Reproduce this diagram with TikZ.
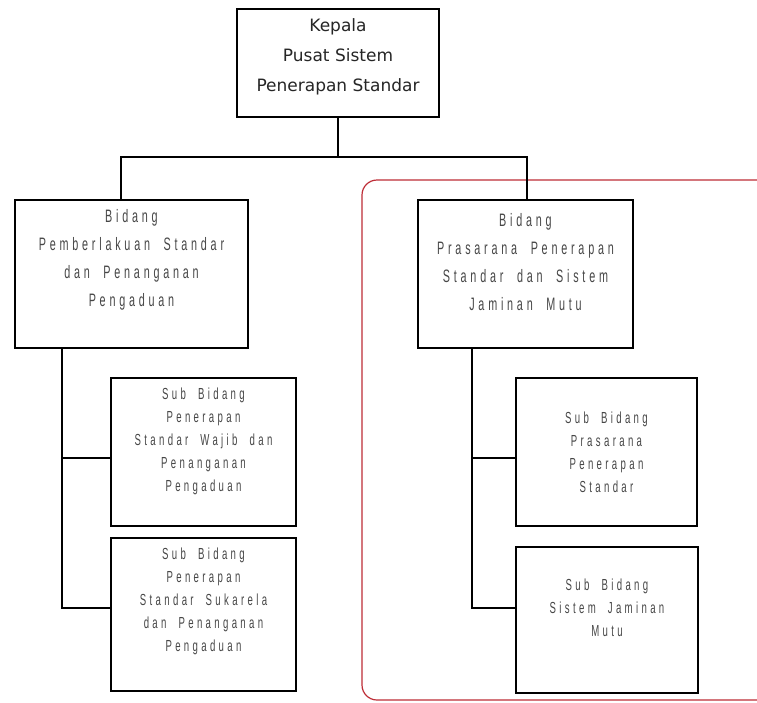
\documentclass[tikz,border=0pt]{standalone}
\usepackage{fontspec}
\newfontfamily\topfont{DejaVu Sans}
\newfontfamily\lowfont{Liberation Sans}[FakeStretch=0.6, LetterSpace=21, WordSpace=2]
\definecolor{frame}{RGB}{190,45,55}
\begin{document}
\begin{tikzpicture}[x=1pt,y=-1pt,
  box/.style={draw=black, line width=1.6pt, fill=white, rectangle, inner sep=0pt},
  conn/.style={draw=black, line width=1.6pt},
  toptext/.style={align=center, font=\topfont\fontsize{17}{30}\selectfont, text=black!85, inner sep=0pt},
  bidtext/.style={align=center, font=\lowfont\fontsize{18}{28}\selectfont, text=black!72, inner sep=0pt},
  subtext/.style={align=center, font=\lowfont\fontsize{16}{23}\selectfont, text=black!72, inner sep=0pt}]
\useasboundingbox (0,0) rectangle (757,702);
\clip (0,0) rectangle (757,702);
\fill[white] (0,0) rectangle (757,702);
% red group frame
\draw[frame, line width=1.2pt, rounded corners=15pt] (362,180) rectangle (790,700);
% boxes
\node[box, minimum width=202pt, minimum height=108pt] (top) at (338,63) {};
\node[box, minimum width=233pt, minimum height=148pt] (lbid) at (131.5,274) {};
\node[box, minimum width=215pt, minimum height=148pt] (rbid) at (525.5,274) {};
\node[box, minimum width=185pt, minimum height=148pt] (lsub1) at (203.5,452) {};
\node[box, minimum width=185pt, minimum height=153pt] (lsub2) at (203.5,614.5) {};
\node[box, minimum width=181pt, minimum height=148pt] (rsub1) at (606.5,452) {};
\node[box, minimum width=182pt, minimum height=146pt] (rsub2) at (607,620) {};
% texts
\node[toptext] (ttop) at ([yshift=6pt]top.center) {Kepala\\Pusat Sistem\\Penerapan Standar};
\node[bidtext] (tlbid) at ([yshift=14pt]lbid.center) {Bidang\\Pemberlakuan Standar\\dan Penanganan\\Pengaduan};
\node[bidtext] (trbid) at ([yshift=12pt]rbid.center) {Bidang\\Prasarana Penerapan\\Standar dan Sistem\\Jaminan Mutu};
\node[subtext] (tlsub1) at ([yshift=11pt]lsub1.center) {Sub Bidang\\Penerapan\\Standar Wajib dan\\Penanganan\\Pengaduan};
\node[subtext] (tlsub2) at ([yshift=13pt]lsub2.center) {Sub Bidang\\Penerapan\\Standar Sukarela\\dan Penanganan\\Pengaduan};
\node[subtext] (trsub1) at (rsub1.center) {Sub Bidang\\Prasarana\\Penerapan\\Standar};
\node[subtext] (trsub2) at ([yshift=12pt]rsub2.center) {Sub Bidang\\Sistem Jaminan\\Mutu};
% junctions
\coordinate (jl) at (121,157);
\coordinate (jr) at (527,157);
\coordinate (ltrunk) at (62,0);
\coordinate (rtrunk) at (472,0);
\coordinate (l1c) at ([yshift=-6pt]lsub1.west);
\coordinate (l2c) at ([yshift=6.5pt]lsub2.west);
\coordinate (r1c) at ([yshift=-6pt]rsub1.west);
\coordinate (r2c) at ([yshift=12pt]rsub2.west);
% connectors
\draw[conn] (top.south) -- (top.south |- jl);
\draw[conn] (lbid.north -| jl) -- (jl) -- (jr) -- (rbid.north -| jr);
\draw[conn] (lbid.south -| ltrunk) -- (ltrunk |- l2c) -- (l2c);
\draw[conn] (ltrunk |- l1c) -- (l1c);
\draw[conn] (rbid.south -| rtrunk) -- (rtrunk |- r2c) -- (r2c);
\draw[conn] (rtrunk |- r1c) -- (r1c);
\end{tikzpicture}
\end{document}
